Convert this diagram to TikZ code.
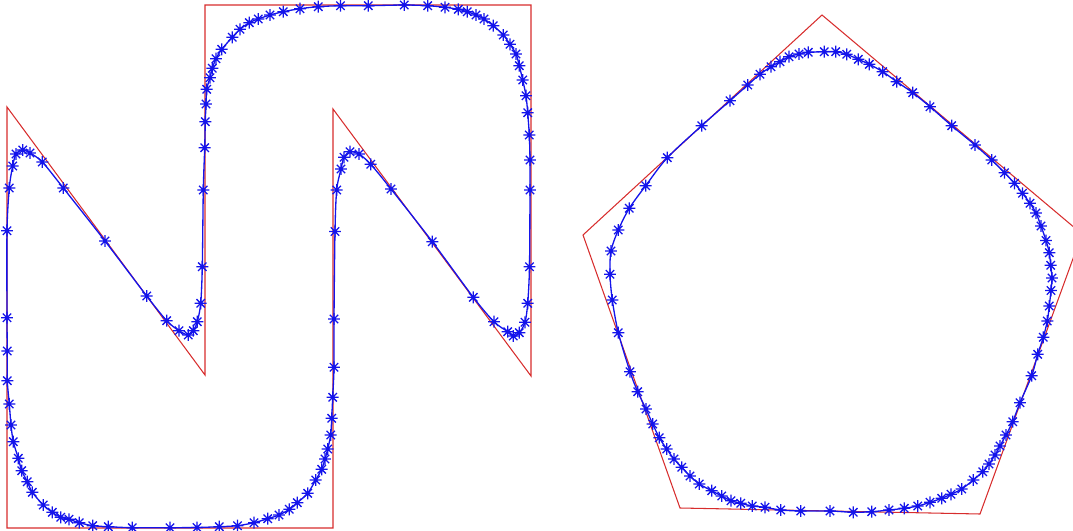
\documentclass[tikz,border=0pt]{standalone}
\usepackage{tikz}

\definecolor{polyred}{RGB}{215,45,45}
\definecolor{curveblue}{RGB}{20,20,235}

\pgfdeclareplotmark{ast}{%
  \pgfpathmoveto{\pgfqpoint{-\pgfplotmarksize}{0pt}}\pgfpathlineto{\pgfqpoint{\pgfplotmarksize}{0pt}}%
  \pgfpathmoveto{\pgfqpoint{0pt}{-\pgfplotmarksize}}\pgfpathlineto{\pgfqpoint{0pt}{\pgfplotmarksize}}%
  \pgfpathmoveto{\pgfqpoint{-.7\pgfplotmarksize}{-.7\pgfplotmarksize}}\pgfpathlineto{\pgfqpoint{.7\pgfplotmarksize}{.7\pgfplotmarksize}}%
  \pgfpathmoveto{\pgfqpoint{-.7\pgfplotmarksize}{.7\pgfplotmarksize}}\pgfpathlineto{\pgfqpoint{.7\pgfplotmarksize}{-.7\pgfplotmarksize}}%
  \pgfusepathqstroke}

\begin{document}
\begin{tikzpicture}[x=0.02cm,y=-0.02cm,
  polygon/.style={draw=polyred,line width=0.6pt},
  spline/.style={draw=curveblue,line width=0.75pt,mark=ast,
    mark size=3.4pt,mark options={curveblue,line width=0.75pt}}]
\useasboundingbox (0,0) rectangle (1073,531);
\clip (0,0) rectangle (1073,531);

\draw[polygon] (7,107) -- (7,528) -- (333,528) -- (333,109) -- (531,376)
  -- (531,5) -- (205,5) -- (205,375) -- cycle;
\draw[polygon] (822,15) -- (1082,234) -- (980,514) -- (680,508) -- (583,235) -- cycle;

\draw[spline] plot[smooth cycle] coordinates {
  (7,317.7) (7,230.7) (9.3,188) (12.7,166) (16,154) (22.7,150) (30,153)
  (42.3,162) (63.3,188) (105,241) (146.7,296) (166.7,320.7) (179,330.7)
  (188.3,335) (193.3,330.7) (197.3,321.7) (200.7,303.3) (202.3,266.7)
  (203.3,190) (204.7,147.7) (205.3,121.7) (206,104) (206.7,89.3) (210,77.7)
  (212.3,68.3) (216,58.7) (221.7,49.3) (232.3,37.3) (240,29.3) (249.3,22.7)
  (258.3,19) (270,15) (283.3,11.7) (300,8.7) (318.3,6.7) (340.5,5.7)
  (368.3,5.7) (404.3,5) (427.7,5.7) (445,7.3) (458.3,9.3) (467.3,11.7)
  (476,15) (484,19) (493.3,25.7) (503.3,35) (510,44.3) (516,54) (519.3,65.7)
  (522.7,80) (526,95.7) (527.7,112.7) (529.3,135) (530,160) (530,190)
  (529.5,266.7) (527.7,303.3) (525,322.3) (519.3,332.7) (513.3,336)
  (507.7,331.7) (494,321.7) (473.3,297.3) (432.3,241.7) (391,189)
  (370.7,164.3) (359,154) (350,151.7) (344,157.3) (341,169) (336.7,190)
  (335,231.5) (334,319) (334,367.3) (332.7,397.3) (331.7,418.3) (330.7,435)
  (327.7,449) (325,459) (321.7,469.3) (315.7,480) (307.7,493.3) (297.3,502.7)
  (289.3,509.3) (279,515) (267.7,518.7) (254,522.7) (237.5,525.7)
  (219.3,526.7) (197,527.5) (170,527.7) (132.3,527.7) (108.3,526.7)
  (92.7,525.7) (79.3,522.7) (69,519.3) (60.7,517.3) (52.3,512.3) (43.3,505)
  (32.3,492.3) (27.3,481.7) (21.7,470.7) (18.3,458.3) (13.3,441.7) (11,425)
  (9.3,404) (7.3,380.7) (7.3,351)};

\draw[spline] plot[smooth cycle] coordinates {
  (610,274.3) (611,251) (618.3,230) (629.3,208.3) (645.7,185.7) (667.3,157.7)
  (701.7,125.7) (730,100.7) (747.7,85) (760,74.3) (771,66.7) (780,61.7)
  (789,56.7) (799,54) (808.3,52.3) (824.3,51.7) (835.7,51.7) (846.7,54.3)
  (858.3,59.3) (869.3,64.3) (882.7,71.7) (896.7,81.7) (912.7,92.7)
  (930,106.7) (951.7,125.7) (975,145) (991.7,160) (1004.5,172.7)
  (1014.5,183.3) (1022.5,193.3) (1030,203.3) (1036,213) (1041,226)
  (1046,240.5) (1049.3,252.7) (1050.7,265.3) (1052,278) (1051,290.5)
  (1049.3,306) (1047.3,321) (1043.3,337.3) (1037.7,354.3) (1031.7,375.7)
  (1020,402.7) (1012.7,421.7) (1006,435) (1000,446) (995,455) (989,464)
  (982.7,471.7) (973.3,480) (961.7,489) (951,494.3) (941.7,498.3) (930,502.3)
  (917.7,506) (904.3,508.3) (889,510) (871.7,511.7) (853.3,512.3) (830,511)
  (800.7,511) (780.7,510) (765,507.3) (752.3,506) (740.7,503.3) (731,500.7)
  (721.7,496) (711.7,490.7) (699.3,484) (690,476) (681.7,467.3) (674,459)
  (666.7,449) (659.3,437.7) (652.7,424) (646,409) (637.7,391.7) (630,371.7)
  (618.3,332.7) (612.3,300)};
\end{tikzpicture}
\end{document}
